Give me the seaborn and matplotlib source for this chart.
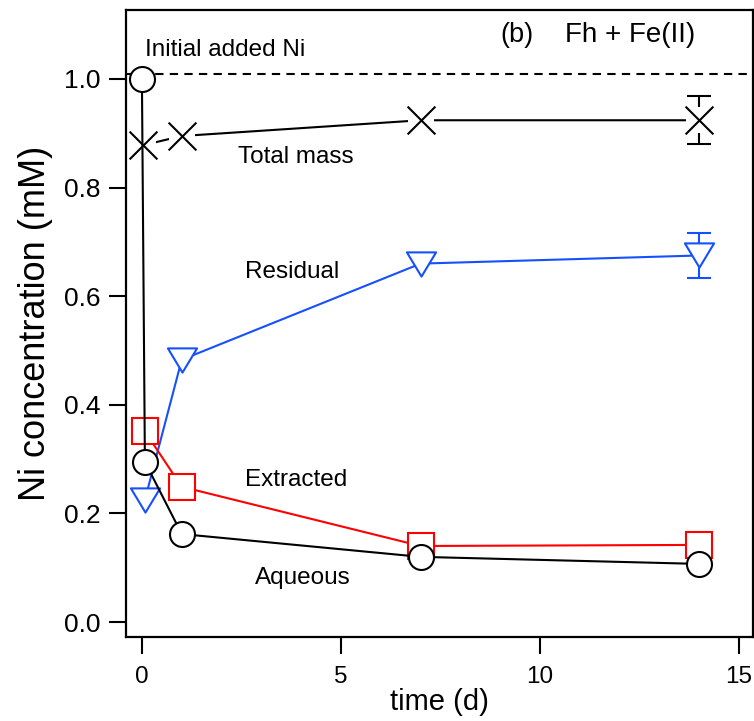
import matplotlib
matplotlib.use("Agg")
import matplotlib.pyplot as plt
from matplotlib.path import Path
import seaborn as sns
import pandas as pd

sns.set_style("ticks")
plt.rcParams["font.family"] = ["Liberation Sans", "DejaVu Sans"]
plt.rcParams.update({
    "text.color": "black",
    "axes.labelcolor": "black",
    "xtick.color": "black",
    "ytick.color": "black",
})

# Ni partitioning over time, Fh + Fe(II) system
aq_t = [0.0, 0.075, 1.0, 7.0, 14.0]
aq_c = [1.0, 0.295, 0.162, 0.120, 0.107]

ex_t = [0.075, 1.0, 7.0, 14.0]
ex_c = [0.351, 0.249, 0.140, 0.142]

res_t = [0.075, 1.0, 7.0, 14.0]
res_c = [0.225, 0.483, 0.660, 0.675]
res_err = [0.0, 0.0, 0.0, 0.041]

tot_t = [0.03, 1.0, 7.0, 14.0]
tot_c = [0.878, 0.895, 0.924, 0.924]
tot_err = [0.0, 0.0, 0.0, 0.044]

initial_ni = 1.01

x_ticks = [0, 5, 10, 15]
y_ticks = [0.0, 0.2, 0.4, 0.6, 0.8, 1.0]
y_tick_labels = ["0.0", "0.2", "0.4", "0.6", "0.8", "1.0"]

RED = "#ff0000"
BLUE = "#1550ff"
LW = 1.5

fig = plt.figure(figsize=(7.54, 7.21), dpi=100)
ax = fig.add_axes([0.1671, 0.1165, 0.8316, 0.8696])

aq = pd.DataFrame({"t": aq_t, "c": aq_c})
ex = pd.DataFrame({"t": ex_t, "c": ex_c})
res = pd.DataFrame({"t": res_t, "c": res_c})
tot = pd.DataFrame({"t": tot_t, "c": tot_c})

# initial Ni reference line
ax.axhline(initial_ni, color="black", lw=LW, ls=(0, (4, 3)), zorder=1)

# residual (blue, wide downward triangles)
tri = Path([(-1, 0.83), (1, 0.83), (0, -0.83), (-1, 0.83)],
           [Path.MOVETO, Path.LINETO, Path.LINETO, Path.CLOSEPOLY])
ax.errorbar(res_t[-1:], res_c[-1:], yerr=res_err[-1:], fmt="none",
            ecolor=BLUE, elinewidth=LW, capsize=8.6, capthick=LW, zorder=2)
sns.lineplot(data=res, x="t", y="c", ax=ax, sort=False, estimator=None,
             color=BLUE, lw=LW, marker=tri, markersize=21,
             markerfacecolor="white", markeredgecolor=BLUE,
             markeredgewidth=LW, zorder=3)

# extracted (red squares)
sns.lineplot(data=ex, x="t", y="c", ax=ax, sort=False, estimator=None,
             color=RED, lw=LW, marker="s", markersize=19,
             markerfacecolor="white", markeredgecolor=RED,
             markeredgewidth=LW, zorder=4)

# total mass (black crosses on white backing)
ax.errorbar(tot_t[-1:], tot_c[-1:], yerr=tot_err[-1:], fmt="none",
            ecolor="black", elinewidth=LW, capsize=8.6, capthick=LW, zorder=4)
sns.lineplot(data=tot, x="t", y="c", ax=ax, sort=False, estimator=None,
             color="black", lw=LW, marker="s", markersize=19,
             markerfacecolor="white", markeredgecolor="white",
             markeredgewidth=0, zorder=5)
sns.scatterplot(data=tot, x="t", y="c", ax=ax, marker="x", s=20 ** 2,
                color="black", linewidth=LW, zorder=6)

# aqueous (black circles)
sns.lineplot(data=aq, x="t", y="c", ax=ax, sort=False, estimator=None,
             color="black", lw=LW, marker="o", markersize=18,
             markerfacecolor="white", markeredgecolor="black",
             markeredgewidth=LW, zorder=7)

# annotations
ann = 17.5
ax.text(0.075, 1.053, "Initial added Ni", fontsize=ann, va="center", ha="left")
ax.text(2.41, 0.856, "Total mass", fontsize=ann, va="center", ha="left")
ax.text(2.59, 0.645, "Residual", fontsize=ann, va="center", ha="left")
ax.text(2.59, 0.262, "Extracted", fontsize=ann, va="center", ha="left")
ax.text(2.84, 0.081, "Aqueous", fontsize=ann, va="center", ha="left")
ax.text(9.0, 1.081, "(b)", fontsize=19.5, va="center", ha="left")
ax.text(10.63, 1.081, "Fh + Fe(II)", fontsize=20, va="center", ha="left")

ax.set_xlim(-0.40, 15.35)
ax.set_ylim(-0.0276, 1.127)
ax.set_xticks(x_ticks)
ax.set_xticklabels([str(v) for v in x_ticks])
ax.set_yticks(y_ticks)
ax.set_yticklabels(y_tick_labels)
ax.minorticks_off()

for side in ["top", "right", "bottom", "left"]:
    ax.spines[side].set_visible(True)
    ax.spines[side].set_linewidth(1.6)
    ax.spines[side].set_color("black")

ax.tick_params(axis="both", direction="out", length=12, width=1.5,
               color="black", top=False, right=False)
ax.tick_params(axis="x", pad=9, labelsize=17.5)
ax.tick_params(axis="y", pad=6, labelsize=19)

ax.set_xlabel("time (d)", fontsize=21, labelpad=0)
ax.set_ylabel("Ni concentration (mM)", fontsize=26, labelpad=8)

fig.savefig("out.png", dpi=100)
